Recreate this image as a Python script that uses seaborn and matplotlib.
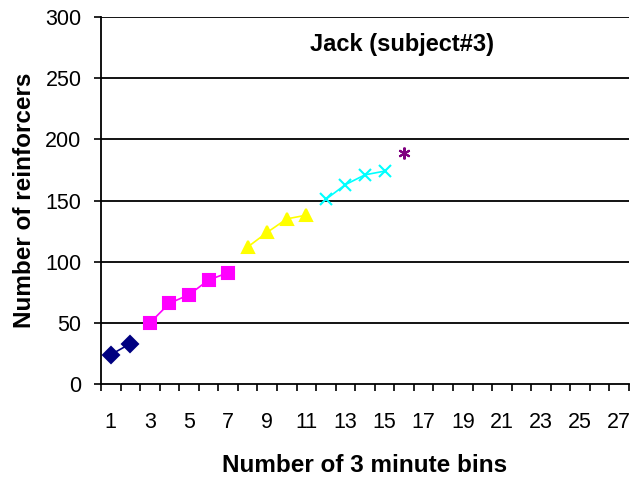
import pandas as pd
import matplotlib
matplotlib.use('Agg')
import matplotlib.pyplot as plt
import seaborn as sns
from matplotlib.ticker import FixedLocator, NullFormatter, FixedFormatter

# 数据
bins = list(range(1, 17))
reinforcers = [24, 33, 50, 66, 73, 85, 91, 112, 124, 135, 138, 151, 163, 171, 174, 189]
phases = ['A'] * 2 + ['B'] * 5 + ['C'] * 4 + ['D'] * 4 + ['E'] * 1
phase_colors = {'A': '#000080', 'B': '#FF00FF', 'C': '#FFFF00', 'D': '#00FFFF', 'E': '#800080'}
phase_markers = {'A': 'D', 'B': 's', 'C': '^', 'D': 'x', 'E': (6, 2, 0)}
x_labels = [str(i) for i in range(1, 28, 2)]
y_ticks = [0, 50, 100, 150, 200, 250, 300]

data_df = pd.DataFrame({'bin': bins, 'value': reinforcers, 'phase': phases})

sns.set_style('white', {'text.color': 'black', 'axes.labelcolor': 'black',
                        'xtick.color': 'black', 'ytick.color': 'black',
                        'xtick.bottom': True, 'ytick.left': True})
plt.rcParams['font.family'] = ['Liberation Sans', 'DejaVu Sans']

fig = plt.figure(figsize=(6.33, 4.79), dpi=100)
ax = fig.add_axes([0.1596, 0.1983, 0.9937 - 0.1596, 0.9645 - 0.1983])

for yv in y_ticks[1:]:
    ax.axhline(yv, color='black', linewidth=1.3, zorder=0)

# 每个阶段单独画一条线
for ph, sub_df in data_df.groupby('phase'):
    c = phase_colors[ph]
    sns.lineplot(data=sub_df, x='bin', y='value', color=c, marker=phase_markers[ph],
                 markersize=8.5, markeredgewidth=1.5, markeredgecolor=c,
                 linewidth=1.2, ax=ax)

ax.set_xlim(0.5, 27.5)
ax.set_ylim(0, 300)
ax.set_yticks(y_ticks)
ax.set_yticklabels([str(v) for v in y_ticks])

ax.xaxis.set_major_locator(FixedLocator([i + 0.5 for i in range(0, 28)]))
ax.xaxis.set_major_formatter(NullFormatter())
ax.xaxis.set_minor_locator(FixedLocator(list(range(1, 28, 2))))
ax.xaxis.set_minor_formatter(FixedFormatter(x_labels))
ax.tick_params(axis='x', which='major', bottom=True, direction='out', length=5, width=1.2, color='black')
ax.tick_params(axis='x', which='minor', bottom=True, length=0, pad=20.5, labelsize=15.5, labelcolor='black')
ax.tick_params(axis='y', left=True, direction='out', length=5, width=1.2, color='black',
               pad=9, labelsize=15.5, labelcolor='black')

for s in ['top', 'right']:
    ax.spines[s].set_visible(False)
for s in ['left', 'bottom']:
    ax.spines[s].set_color('black')
    ax.spines[s].set_linewidth(1.3)

ax.set_xlabel('Number of 3 minute bins', fontsize=17.5, fontweight='bold', labelpad=15, color='black')
ax.set_ylabel('Number of reinforcers', fontsize=17.5, fontweight='bold', labelpad=7, color='black')
ax.text((401.5 - 101) / 528, (384 - 44) / 367, 'Jack (subject#3)', transform=ax.transAxes,
        ha='center', va='center', fontsize=17, fontweight='bold', color='black')

fig.savefig('out.png', dpi=100)
